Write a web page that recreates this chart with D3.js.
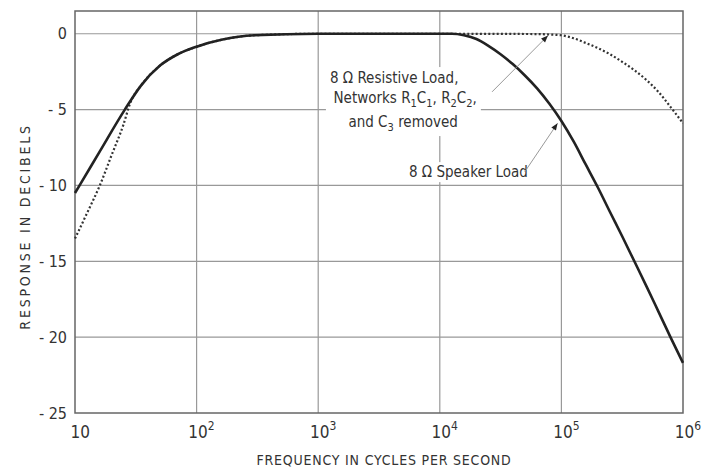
<!DOCTYPE html>
<html>
<head>
<meta charset="utf-8">
<script src="https://cdn.jsdelivr.net/npm/d3@7"></script>
<style>
  body { margin: 0; background: #fff; }
  text { font-family: "Liberation Sans Narrow", "DejaVu Sans Condensed", sans-serif; fill: #333; }
</style>
</head>
<body>
<script>
// frequency response, values (Hz, dB)
var speakerLoad = [
  [10, -10.5], [11, -9.95], [16, -7.75], [25.7, -5.0], [35, -3.4], [50, -2.1], [70, -1.35],
  [100, -0.85], [160, -0.4], [300, -0.1], [1000, 0], [10000, 0], [12600, 0],
  [15800, -0.1], [20000, -0.35], [25100, -0.8], [31600, -1.35], [39800, -2.0],
  [50100, -2.75], [63100, -3.6], [79400, -4.6], [100000, -5.75], [126000, -7.1],
  [158000, -8.6], [200000, -10.15], [251000, -11.75], [316000, -13.35], [398000, -15.0],
  [501000, -16.65], [631000, -18.35], [794000, -20.05], [1000000, -21.7]
];
var resistiveLoad = [
  [10, -13.5], [12.6, -11.8], [16, -10], [20, -8.0], [25, -6.0], [28.5, -4.55],
  [35, -3.4], [50, -2.1], [70, -1.35], [100, -0.85], [160, -0.4], [300, -0.1],
  [1000, 0], [10000, 0], [63100, -0.02], [79400, -0.05], [100000, -0.1],
  [126000, -0.3], [158000, -0.6], [200000, -0.95], [251000, -1.35], [316000, -1.85],
  [398000, -2.4], [501000, -3.05], [631000, -3.85], [794000, -4.85], [1000000, -5.9]
];

var xTicks = [10, 100, 1000, 10000, 100000, 1000000];
var xExp = ["", "2", "3", "4", "5", "6"];
var yTicks = [0, -5, -10, -15, -20, -25];

// annotation anchors in data units [freq, dB]
var resistiveArrow = {from: [26900, -3.83], to: [77600, -0.12]};
var speakerArrow = {from: [50000, -9.1], to: [93000, -5.9]};

var margin = {top: 11, right: 20, bottom: 58, left: 75},
    W = 703, H = 471,
    width = W - margin.left - margin.right,
    height = H - margin.top - margin.bottom;

var svg = d3.select("body").append("svg")
    .attr("width", W)
    .attr("height", H);

var x = d3.scaleLog().domain([10, 1e6]).range([margin.left, margin.left + width]);
var y = d3.scaleLinear().domain([-25, 1.5]).range([margin.top + height, margin.top]);

// grid
svg.append("g").selectAll("line")
    .data(xTicks.slice(1, -1)).enter().append("line")
    .attr("x1", function(d) { return x(d); }).attr("x2", function(d) { return x(d); })
    .attr("y1", y(1.5)).attr("y2", y(-25))
    .attr("stroke", "#999").attr("stroke-width", 1.2);
svg.append("g").selectAll("line")
    .data(yTicks.slice(0, -1)).enter().append("line")
    .attr("x1", x(10)).attr("x2", x(1e6))
    .attr("y1", function(d) { return y(d); }).attr("y2", function(d) { return y(d); })
    .attr("stroke", "#999").attr("stroke-width", 1.2);

// frame
svg.append("rect")
    .attr("x", x(10)).attr("y", y(1.5))
    .attr("width", x(1e6) - x(10)).attr("height", y(-25) - y(1.5))
    .attr("fill", "none").attr("stroke", "#666").attr("stroke-width", 1.5);

// annotation text (white box behind it hides the grid)
var notes = svg.append("g");
var ann = notes.append("g");
var cx = x(5000);
ann.append("text").attr("x", cx - 9).attr("y", y(-3.25)).attr("text-anchor", "middle")
    .style("font-size", "15px").text("8 \u03a9 Resistive Load,");
var l2 = ann.append("text").attr("x", cx + 2).attr("y", y(-4.55)).attr("text-anchor", "middle")
    .style("font-size", "15px");
l2.append("tspan").text("Networks R");
l2.append("tspan").attr("dy", 4).style("font-size", "11px").text("1");
l2.append("tspan").attr("dy", -4).text("C");
l2.append("tspan").attr("dy", 4).style("font-size", "11px").text("1");
l2.append("tspan").attr("dy", -4).text(",  R");
l2.append("tspan").attr("dy", 4).style("font-size", "11px").text("2");
l2.append("tspan").attr("dy", -4).text("C");
l2.append("tspan").attr("dy", 4).style("font-size", "11px").text("2");
l2.append("tspan").attr("dy", -4).text(",");
var l3 = ann.append("text").attr("x", cx).attr("y", y(-6.15)).attr("text-anchor", "middle")
    .style("font-size", "15px");
l3.append("tspan").text("and  C");
l3.append("tspan").attr("dy", 4).style("font-size", "11px").text("3");
l3.append("tspan").attr("dy", -4).text("  removed");

var bb = ann.node().getBBox();
ann.insert("rect", ":first-child")
    .attr("x", bb.x - 4).attr("y", bb.y - 2)
    .attr("width", bb.width + 8).attr("height", bb.height + 4)
    .attr("fill", "#fff");

var ann2 = notes.append("g");
ann2.append("text").attr("x", x(17200)).attr("y", y(-9.45)).attr("text-anchor", "middle")
    .style("font-size", "15px").text("8 \u03a9 Speaker Load");
var bb2 = ann2.node().getBBox();
ann2.insert("rect", ":first-child")
    .attr("x", bb2.x - 3).attr("y", bb2.y - 1)
    .attr("width", bb2.width + 6).attr("height", bb2.height + 2)
    .attr("fill", "#fff");

// curves
var line = d3.line()
    .curve(d3.curveMonotoneX)
    .x(function(d) { return x(d[0]); })
    .y(function(d) { return y(d[1]); });

svg.append("path")
    .datum(resistiveLoad)
    .attr("fill", "none")
    .attr("stroke", "#333")
    .attr("stroke-width", 2.2)
    .attr("stroke-dasharray", "2,2.2")
    .attr("d", line);

svg.append("path")
    .datum(speakerLoad)
    .attr("fill", "none")
    .attr("stroke", "#222")
    .attr("stroke-width", 2.6)
    .attr("stroke-linejoin", "round")
    .attr("d", line);

// leader lines with arrowheads
svg.append("defs").append("marker")
    .attr("id", "arrow")
    .attr("viewBox", "0 0 10 10")
    .attr("refX", 10).attr("refY", 5)
    .attr("markerWidth", 9).attr("markerHeight", 7)
    .attr("markerUnits", "userSpaceOnUse")
    .attr("orient", "auto")
    .append("path").attr("d", "M0,1L10,5L0,9Z").attr("fill", "#222");

[resistiveArrow, speakerArrow].forEach(function(a) {
  svg.append("line")
    .attr("x1", x(a.from[0])).attr("y1", y(a.from[1]))
    .attr("x2", x(a.to[0])).attr("y2", y(a.to[1]))
    .attr("stroke", "#999").attr("stroke-width", 1)
    .attr("marker-end", "url(#arrow)");
});

// y axis labels
var yAxis = d3.axisLeft(y).tickValues(yTicks).tickSize(0).tickPadding(8)
    .tickFormat(function(d) { return d === 0 ? "0" : "- " + (-d); });
var gy = svg.append("g").attr("transform", "translate(" + x(10) + ",0)").call(yAxis);
gy.select(".domain").remove();
gy.selectAll("text").style("font-size", "16px").style("font-family", null);

// x axis labels with superscript exponents
var xAxis = d3.axisBottom(x).tickValues(xTicks).tickSize(0).tickFormat("");
var gx = svg.append("g").attr("transform", "translate(0," + y(-25) + ")").call(xAxis);
gx.select(".domain").remove();
gx.selectAll(".tick text").remove();
gx.selectAll(".tick").each(function(d, i) {
  var t = d3.select(this).append("text")
      .attr("y", 25)
      .attr("text-anchor", i === 0 ? "start" : "middle")
      .attr("x", i === 0 ? -5 : 0)
      .style("font-size", "17px").style("font-family", null)
      .attr("fill", "#333");
  t.append("tspan").text("10");
  if (xExp[i]) {
    var sup = t.append("tspan").attr("dy", -8).style("font-size", "12px").text(xExp[i]);
    // keep the "10" centred on the tick
    t.attr("x", sup.node().getComputedTextLength() / 2 + 1);
  }
});

// axis titles
svg.append("text")
    .attr("x", (x(10) + x(1e6)) / 2 + 5)
    .attr("y", H - 6)
    .attr("text-anchor", "middle")
    .style("font-size", "14px")
    .style("letter-spacing", "0.8px")
    .text("FREQUENCY IN CYCLES PER SECOND");

svg.append("text")
    .attr("transform", "translate(30," + (y(-12.7)) + ") rotate(-90)")
    .attr("text-anchor", "middle")
    .style("font-size", "14px")
    .style("letter-spacing", "2.8px")
    .text("RESPONSE IN DECIBELS");
</script>
</body>
</html>
